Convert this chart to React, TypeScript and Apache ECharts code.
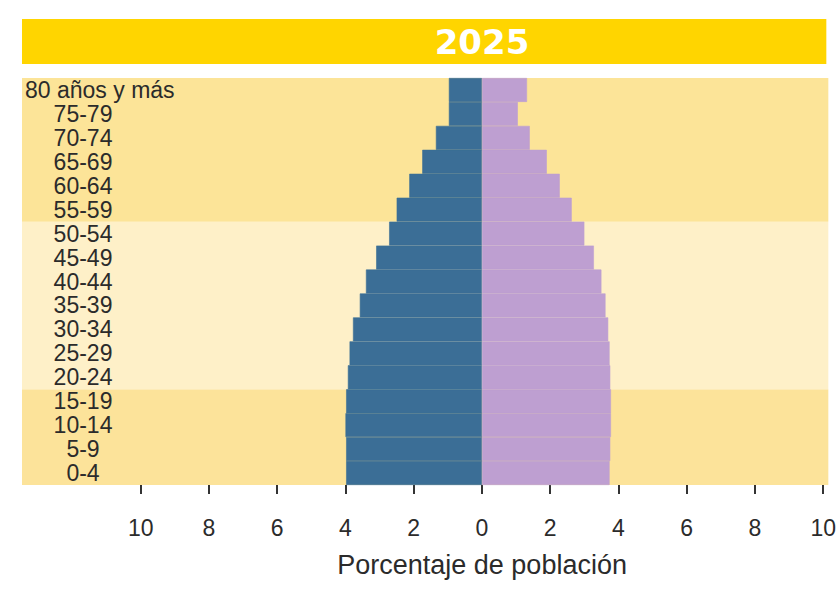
import React, { useEffect, useRef } from "react";
import * as echarts from "echarts";

const title = "2025";
const ageGroups = [
  "0-4", "5-9", "10-14", "15-19", "20-24", "25-29", "30-34", "35-39", "40-44",
  "45-49", "50-54", "55-59", "60-64", "65-69", "70-74", "75-79", "80 años y más",
];
// Porcentaje de población (hombres, izquierda)
const maleValues = [3.98, 3.98, 4.0, 3.98, 3.93, 3.88, 3.78, 3.58, 3.4, 3.1, 2.72, 2.5, 2.13, 1.75, 1.35, 0.97, 0.97];
// Porcentaje de población (mujeres, derecha)
const femaleValues = [3.74, 3.76, 3.78, 3.78, 3.76, 3.74, 3.7, 3.62, 3.5, 3.28, 3.0, 2.63, 2.28, 1.9, 1.4, 1.05, 1.32];
const tickValues = [-10, -8, -6, -4, -2, 0, 2, 4, 6, 8, 10];
const axisName = "Porcentaje de población";
// background bands: [firstIndex, lastIndex, colour]
const bands: [number, number, string][] = [
  [0, 3, "#FCE39A"],
  [4, 10, "#FEF0C8"],
  [11, 16, "#FCE498"],
];

const FONT = "'Liberation Sans', Arial, sans-serif";
const X_MIN = -13.48;
const X_MAX = 10.15;
const MALE_COLOR = "#3B6E96";
const FEMALE_COLOR = "#BE9FD1";

export default function App() {
  const ref = useRef<HTMLDivElement>(null);
  useEffect(() => {
    if (!ref.current) return;
    const chart = echarts.init(ref.current, null, { renderer: "svg" });
    // shift the axis name so it is centred on 0 instead of the middle of the axis extent
    const nameShift = 2 * 34.19 * (-(X_MIN + X_MAX) / 2);
    chart.setOption({
      animation: false,
      backgroundColor: "#FFFFFF",
      grid: { left: 22, right: 9, top: 78, bottom: 110, containLabel: false },
      xAxis: {
        type: "value",
        min: X_MIN,
        max: X_MAX,
        splitLine: { show: false },
        axisLine: { show: false },
        axisTick: {
          show: true,
          customValues: tickValues,
          length: 9,
          lineStyle: { color: "#333", width: 2 },
        },
        axisLabel: {
          customValues: tickValues,
          formatter: (v: number) => String(Math.abs(v)),
          color: "#2b2b2b",
          fontFamily: FONT,
          fontSize: 23,
          margin: 31,
        },
        name: axisName,
        nameLocation: "middle",
        nameGap: 66,
        nameTextStyle: {
          color: "#2b2b2b",
          fontFamily: FONT,
          fontSize: 27,
          padding: [0, 0, 0, nameShift],
        },
      },
      yAxis: {
        type: "category",
        data: ageGroups,
        axisLine: { show: false },
        axisTick: { show: false },
        axisLabel: { show: false },
      },
      series: [
        {
          name: "Hombres",
          type: "bar",
          stack: "p",
          data: maleValues.map((v) => -v),
          barWidth: "100%",
          itemStyle: { color: MALE_COLOR, borderColor: MALE_COLOR, borderWidth: 0.6 },
          z: 3,
        },
        {
          name: "Mujeres",
          type: "bar",
          stack: "p",
          data: femaleValues,
          barWidth: "100%",
          itemStyle: { color: FEMALE_COLOR, borderColor: FEMALE_COLOR, borderWidth: 0.6 },
          z: 3,
        },
      ],
    });

    const yc = (i: number) => chart.convertToPixel({ yAxisIndex: 0 }, i) as number;
    const xp = (v: number) => chart.convertToPixel({ xAxisIndex: 0 }, v) as number;
    const step = Math.abs(yc(1) - yc(0));
    const x0 = xp(X_MIN);
    const x1 = xp(X_MAX);
    const zeroX = xp(0);

    const graphic: any[] = [];
    bands.forEach(([a, b, color]) => {
      const yTop = yc(b) - step / 2;
      const yBot = yc(a) + step / 2;
      graphic.push({
        type: "rect",
        z: 0,
        shape: { x: x0, y: yTop, width: x1 - x0, height: yBot - yTop },
        style: { fill: color },
      });
    });
    ageGroups.forEach((g, i) => {
      const last = i === ageGroups.length - 1;
      graphic.push({
        type: "text",
        z: 5,
        x: last ? x0 + 3 : x0 + 61,
        y: yc(i),
        style: {
          text: g,
          fill: "#2b2b2b",
          font: `23px ${FONT}`,
          textAlign: last ? "left" : "center",
          textVerticalAlign: "middle",
        },
      });
    });
    const topPlot = yc(ageGroups.length - 1) - step / 2;
    graphic.push({
      type: "rect",
      z: 5,
      shape: { x: x0, y: 19, width: x1 - x0 - 2, height: topPlot - 33 },
      style: { fill: "#FFD500" },
    });
    graphic.push({
      type: "text",
      z: 6,
      x: zeroX,
      y: 19 + (topPlot - 33) / 2,
      style: {
        text: title,
        fill: "#FFFFFF",
        font: `bold 34px 'DejaVu Sans', sans-serif`,
        textAlign: "center",
        textVerticalAlign: "middle",
      },
    });
    chart.setOption({ graphic });

    return () => chart.dispose();
  }, []);
  return (
    <div
      ref={ref}
      style={{ position: "fixed", left: 0, top: 0, width: 839, height: 595 }}
    />
  );
}
